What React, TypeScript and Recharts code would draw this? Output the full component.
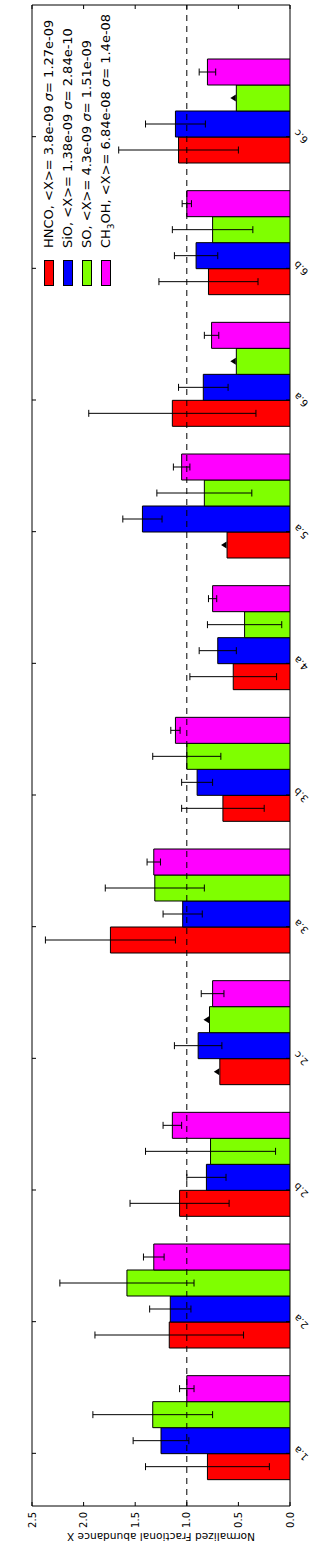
import React from "react";
import {
  BarChart,
  Bar,
  XAxis,
  YAxis,
  ErrorBar,
  LabelList,
  Legend,
  ReferenceLine,
  ReferenceArea,
} from "recharts";

// categories (sources / positions)
const categories = ["1.a", "2.a", "2.b", "2.c", "3.a", "3.b", "4.a", "5.a", "6.a", "6.b", "6.c"];

// legend info
const species = ["HNCO", "SiO", "SO", "CH3OH"];
const meanX = ["3.8e-09", "1.38e-09", "4.3e-09", "6.84e-08"];
const sigmaX = ["1.27e-09", "2.84e-10", "1.51e-09", "1.4e-08"];
const colors = ["#ff0000", "#0000ff", "#7fff00", "#ff00ff"];

// normalized abundances
const hnco = [0.8, 1.17, 1.07, 0.68, 1.74, 0.65, 0.55, 0.61, 1.14, 0.79, 1.08];
const sio = [1.25, 1.16, 0.81, 0.89, 1.04, 0.9, 0.7, 1.43, 0.84, 0.91, 1.11];
const so = [1.33, 1.58, 0.77, 0.78, 1.31, 1.0, 0.44, 0.83, 0.52, 0.75, 0.52];
const ch3oh = [1.0, 1.32, 1.14, 0.75, 1.32, 1.11, 0.75, 1.05, 0.76, 1.0, 0.8];

// errors (null where only a limit is given)
const hncoErr = [0.6, 0.72, 0.48, null, 0.63, 0.4, 0.42, null, 0.81, 0.48, 0.58];
const sioErr = [0.27, 0.2, 0.19, 0.23, 0.19, 0.15, 0.18, 0.19, 0.24, 0.21, 0.29];
const soErr = [0.58, 0.65, 0.63, null, 0.48, 0.33, 0.36, 0.46, null, 0.39, null];
const ch3ohErr = [0.07, 0.1, 0.09, 0.11, 0.065, 0.045, 0.04, 0.08, 0.07, 0.045, 0.08];

// limits (1 = triangle marker)
const hncoLim = [0, 0, 0, 1, 0, 0, 0, 1, 0, 0, 0];
const sioLim = [0, 0, 0, 0, 0, 0, 0, 0, 0, 0, 0];
const soLim = [0, 0, 0, 1, 0, 0, 0, 0, 1, 0, 1];
const ch3ohLim = [0, 0, 0, 0, 0, 0, 0, 0, 0, 0, 0];

const valueTicks = [0, 0.5, 1, 1.5, 2, 2.5];
const yLabel = "Normalized Fractional abundance X";

const keys = ["hnco", "sio", "so", "ch3oh"];
const values = [hnco, sio, so, ch3oh];
const errors = [hncoErr, sioErr, soErr, ch3ohErr];
const limits = [hncoLim, sioLim, soLim, ch3ohLim];

const data = categories.map((name, i) => {
  const row: any = { x: i, name };
  keys.forEach((k, s) => {
    row[k] = values[s][i];
    row[k + "Err"] = errors[s][i];
    row[k + "Lim"] = limits[s][i];
  });
  return row;
});

// chart is drawn landscape and rotated -90deg
const W = 1546;
const H = 323;
const PLOT = { left: 40, right: 1541, top: 32, bottom: 290 };
const BAR_W = 0.2; // width of one bar in category units; ticks sit one bar left of centre
const X_DOMAIN = [-0.6, 10.8];
const FONT = '"DejaVu Sans", sans-serif';

const catTicks = categories.map((_, i) => i - BAR_W);

const renderCategoryTick = (props: any) => {
  const { x, payload } = props;
  const label = categories[Math.round(payload.value + BAR_W)];
  const ty = PLOT.bottom + 11;
  return (
    <g>
      <line x1={x} x2={x} y1={PLOT.bottom} y2={PLOT.bottom - 4} stroke="#000" />
      <line x1={x} x2={x} y1={PLOT.top} y2={PLOT.top + 4} stroke="#000" />
      <text
        x={x}
        y={ty}
        transform={`rotate(-45 ${x} ${ty})`}
        textAnchor="middle"
        dominantBaseline="central"
        fontSize={10}
        fill="#000"
      >
        {label}
      </text>
    </g>
  );
};

const renderValueTick = (props: any) => {
  const { y, payload } = props;
  return (
    <g>
      <line x1={PLOT.left} x2={PLOT.left + 4} y1={y} y2={y} stroke="#000" />
      <line x1={PLOT.right - 4} x2={PLOT.right} y1={y} y2={y} stroke="#000" />
      <text x={PLOT.left - 6} y={y} textAnchor="end" dominantBaseline="central" fontSize={10} fill="#000">
        {Number(payload.value).toFixed(1)}
      </text>
    </g>
  );
};

const renderAxisTitle = () => {
  const cx = 9;
  const cy = (PLOT.top + PLOT.bottom) / 2;
  return (
    <text
      x={cx}
      y={cy}
      transform={`rotate(-90 ${cx} ${cy})`}
      textAnchor="middle"
      dominantBaseline="central"
      fontSize={10.6}
      fill="#000"
    >
      {yLabel}
    </text>
  );
};

const renderLimit = (props: any) => {
  if (!Number(props.value)) return null;
  const vb = props.viewBox ?? props;
  const cx = vb.x + vb.width / 2;
  const top = vb.y;
  return <polygon points={`${cx - 3.5},${top - 0.5} ${cx + 3.5},${top - 0.5} ${cx},${top - 6}`} fill="#000" />;
};

const speciesLabel = (s: string) =>
  s.split(/(\d+)/).map((part, j) =>
    /^\d+$/.test(part) ? (
      <sub key={j} style={{ fontSize: 9, lineHeight: 0 }}>
        {part}
      </sub>
    ) : (
      <React.Fragment key={j}>{part}</React.Fragment>
    )
  );

const renderLegend = () => (
  <div style={{ fontFamily: FONT, fontSize: 13, lineHeight: "19px", color: "#000" }}>
    {species.map((s, i) => (
      <div key={s} style={{ display: "flex", alignItems: "center", height: 19, whiteSpace: "nowrap" }}>
        <div
          style={{
            width: 26,
            height: 10,
            boxSizing: "border-box",
            border: "1px solid #000",
            background: colors[i],
            marginRight: 12,
            flexShrink: 0,
          }}
        />
        <span>
          {speciesLabel(s)}, &lt;X&gt;= {meanX[i]} <i>σ</i>= {sigmaX[i]}
        </span>
      </div>
    ))}
  </div>
);

export default function App() {
  return (
    <div style={{ position: "absolute", left: 0, top: 0, width: H, height: W, overflow: "hidden", background: "#fff" }}>
      <div
        style={{
          position: "relative",
          width: W,
          height: H,
          transformOrigin: "0 0",
          transform: `translateY(${W}px) rotate(-90deg)`,
          fontFamily: FONT,
        }}
      >
        <BarChart
          width={W}
          height={H}
          data={data}
          margin={{ top: PLOT.top, right: W - PLOT.right, bottom: 0, left: 0 }}
          barGap={0}
          barCategoryGap="10%"
        >
          <XAxis
            type="number"
            dataKey="x"
            domain={X_DOMAIN}
            allowDataOverflow
            ticks={catTicks}
            interval={0}
            height={H - PLOT.bottom}
            axisLine={false}
            tickLine={false}
            tick={renderCategoryTick}
          />
          <YAxis
            type="number"
            domain={[0, 2.5]}
            allowDataOverflow
            ticks={valueTicks}
            interval={0}
            width={PLOT.left}
            axisLine={false}
            tickLine={false}
            tick={renderValueTick}
            label={renderAxisTitle}
          />
          <Legend
            layout="vertical"
            align="center"
            verticalAlign="middle"
            wrapperStyle={{ left: 1260, top: 39, width: 290, height: 80 }}
            content={renderLegend}
          />
          {keys.map((k, s) => (
            <Bar
              key={k}
              dataKey={k}
              name={species[s]}
              fill={colors[s]}
              stroke="#000"
              strokeWidth={1}
              isAnimationActive={false}
            >
              <ErrorBar dataKey={k + "Err"} width={3.5} stroke="#000" strokeWidth={1} direction="y" />
              <LabelList dataKey={k + "Lim"} content={renderLimit} />
            </Bar>
          ))}
          <ReferenceLine y={1} stroke="#000" strokeWidth={1} strokeDasharray="6 5" />
          <ReferenceArea
            x1={X_DOMAIN[0]}
            x2={X_DOMAIN[1]}
            y1={0}
            y2={2.5}
            fill="none"
            fillOpacity={0}
            stroke="#000"
            strokeWidth={1}
          />
        </BarChart>
      </div>
    </div>
  );
}
